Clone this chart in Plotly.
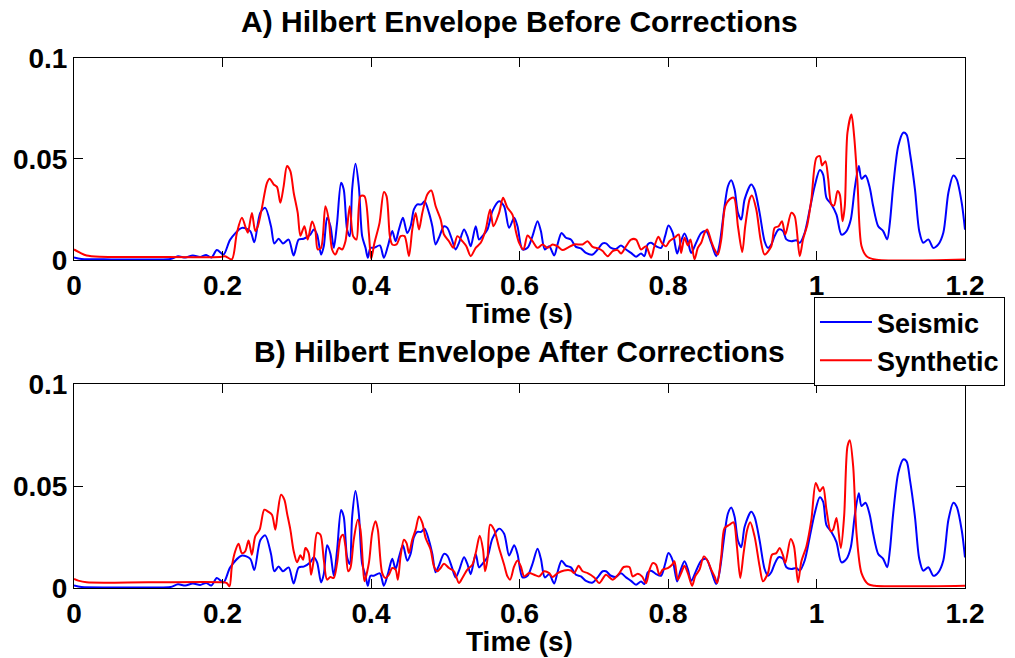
import plotly.graph_objects as go

# ---------------- data ----------------
seis_t = [0.000, 0.010, 0.050, 0.100, 0.130, 0.140, 0.150, 0.160, 0.170, 0.178, 0.185, 0.1924, 0.2014,
          0.2104, 0.2262, 0.2374, 0.2428, 0.2509, 0.2576, 0.2653, 0.2698, 0.2756, 0.2815, 0.2891, 0.2958,
          0.3026, 0.3093, 0.3184, 0.3229, 0.3274, 0.3328, 0.3364, 0.3409, 0.3454, 0.3499, 0.3543, 0.3597,
          0.3633, 0.3678, 0.3714, 0.3746, 0.3791, 0.3836, 0.3881, 0.3926, 0.3957, 0.3993, 0.4038, 0.4119,
          0.4173, 0.4227, 0.4286, 0.4331, 0.4376, 0.4430, 0.4488, 0.4533, 0.4578, 0.4623, 0.4677, 0.4722,
          0.4781, 0.4826, 0.4870, 0.4915, 0.4983, 0.5028, 0.5082, 0.5140, 0.5185, 0.5253, 0.5298, 0.5343,
          0.5410, 0.5455, 0.5500, 0.5568, 0.5635, 0.5725, 0.5793, 0.5860, 0.5928, 0.5973, 0.6040, 0.6108,
          0.6175, 0.6243, 0.6288, 0.6341, 0.6400, 0.6467, 0.6512, 0.6566, 0.6625, 0.6692, 0.6760, 0.6827,
          0.6895, 0.6985, 0.7052, 0.7120, 0.7165, 0.7232, 0.7300, 0.7367, 0.7435, 0.7502, 0.7570, 0.7637,
          0.7682, 0.7727, 0.7772, 0.7840, 0.7907, 0.7961, 0.8006, 0.8064, 0.8123, 0.8168, 0.8222, 0.8267,
          0.8312, 0.8379, 0.8447, 0.8514, 0.8582, 0.8649, 0.8694, 0.8762, 0.8807, 0.8852, 0.8897, 0.8942,
          0.8987, 0.9032, 0.9121, 0.9166, 0.9234, 0.9301, 0.9346, 0.9391, 0.9436, 0.9490, 0.9549, 0.9594,
          0.9661, 0.9729, 0.9774, 0.9841, 0.9909, 0.9976, 1.0044, 1.0089, 1.0134, 1.0201, 1.0269, 1.0336,
          1.0404, 1.0462, 1.0516, 1.0570, 1.0606, 1.0660, 1.0718, 1.0763, 1.0831, 1.0898, 1.0952, 1.0988,
          1.1033, 1.1101, 1.1168, 1.1213, 1.1258, 1.1326, 1.1384, 1.1438, 1.1506, 1.1573, 1.1641, 1.1708,
          1.1776, 1.1843, 1.1888, 1.1956, 1.2000]
seis_v = [0.0012, 0.0005, 0.0003, 0.0003, 0.0005, 0.0018, 0.0012, 0.0022, 0.0015, 0.0025, 0.0012, 0.0049, 0.0027,
          0.0101, 0.0159, 0.0143, 0.0088, 0.0234, 0.0258, 0.0167, 0.0082, 0.0105, 0.0082, 0.0101, 0.0022,
          0.0101, 0.0105, 0.0126, 0.0151, 0.0126, 0.0027, 0.0068, 0.0209, 0.0167, 0.0060, 0.0184, 0.0382,
          0.0349, 0.0151, 0.0118, 0.0349, 0.0476, 0.0365, 0.0118, 0.0060, 0.0011, 0.0060, 0.0060, 0.0072,
          0.0011, 0.0068, 0.0143, 0.0093, 0.0151, 0.0209, 0.0134, 0.0167, 0.0250, 0.0275, 0.0275, 0.0291,
          0.0233, 0.0167, 0.0077, 0.0110, 0.0167, 0.0159, 0.0110, 0.0052, 0.0085, 0.0151, 0.0118, 0.0068,
          0.0167, 0.0101, 0.0118, 0.0151, 0.0242, 0.0291, 0.0266, 0.0159, 0.0209, 0.0167, 0.0052, 0.0060,
          0.0118, 0.0192, 0.0143, 0.0052, 0.0068, 0.0022, 0.0077, 0.0134, 0.0110, 0.0101, 0.0065, 0.0057,
          0.0035, 0.0027, 0.0052, 0.0082, 0.0082, 0.0060, 0.0055, 0.0072, 0.0052, 0.0035, 0.0016, 0.0032,
          0.0019, 0.0077, 0.0085, 0.0068, 0.0060, 0.0118, 0.0171, 0.0134, 0.0032, 0.0085, 0.0131, 0.0093,
          0.0035, 0.0085, 0.0134, 0.0143, 0.0085, 0.0019, 0.0077, 0.0266, 0.0365, 0.0395, 0.0349, 0.0233,
          0.0200, 0.0300, 0.0374, 0.0349, 0.0233, 0.0093, 0.0060, 0.0077, 0.0118, 0.0151, 0.0143, 0.0102,
          0.0093, 0.0098, 0.0085, 0.0135, 0.0250, 0.0366, 0.0445, 0.0423, 0.0308, 0.0275, 0.0225, 0.0126,
          0.0143, 0.0200, 0.0357, 0.0465, 0.0402, 0.0418, 0.0357, 0.0267, 0.0167, 0.0143, 0.0102, 0.0184,
          0.0366, 0.0564, 0.0630, 0.0621, 0.0531, 0.0349, 0.0143, 0.0085, 0.0102, 0.0060, 0.0077, 0.0135,
          0.0333, 0.0418, 0.0399, 0.0283, 0.0150]

synA_t = [0.000, 0.008, 0.017, 0.035, 0.100, 0.197, 0.2036, 0.2126, 0.2194, 0.2261, 0.2320, 0.2342, 0.2396,
          0.2441, 0.2477, 0.2531, 0.2599, 0.2635, 0.2689, 0.2734, 0.2779, 0.2824, 0.2869, 0.2914, 0.2959,
          0.3013, 0.3049, 0.3103, 0.3148, 0.3206, 0.3251, 0.3282, 0.3327, 0.3386, 0.3431, 0.3476, 0.3521,
          0.3566, 0.3611, 0.3656, 0.3714, 0.3759, 0.3804, 0.3858, 0.3912, 0.3971, 0.4002, 0.4047, 0.4115,
          0.4173, 0.4209, 0.4254, 0.4286, 0.4344, 0.4398, 0.4452, 0.4511, 0.4556, 0.4601, 0.4646, 0.4691,
          0.4758, 0.4812, 0.4871, 0.4938, 0.4983, 0.5050, 0.5109, 0.5163, 0.5230, 0.5284, 0.5343, 0.5410,
          0.5478, 0.5545, 0.5604, 0.5649, 0.5725, 0.5779, 0.5838, 0.5905, 0.5950, 0.5995, 0.6054, 0.6108,
          0.6175, 0.6243, 0.6310, 0.6378, 0.6445, 0.6512, 0.6580, 0.6647, 0.6737, 0.6850, 0.6917, 0.6985,
          0.7075, 0.7120, 0.7187, 0.7255, 0.7322, 0.7367, 0.7435, 0.7502, 0.7570, 0.7637, 0.7705, 0.7772,
          0.7817, 0.7871, 0.7916, 0.7974, 0.8019, 0.8087, 0.8145, 0.8177, 0.8222, 0.8267, 0.8303, 0.8357,
          0.8402, 0.8447, 0.8492, 0.8528, 0.8582, 0.8627, 0.8672, 0.8717, 0.8771, 0.8829, 0.8888, 0.8942,
          0.9000, 0.9040, 0.9099, 0.9130, 0.9189, 0.9247, 0.9301, 0.9391, 0.9436, 0.9490, 0.9535, 0.9580,
          0.9661, 0.9706, 0.9774, 0.9819, 0.9877, 0.9931, 0.9999, 1.0044, 1.0075, 1.0120, 1.0156, 1.0201,
          1.0237, 1.0282, 1.0314, 1.0350, 1.0381, 1.0417, 1.0471, 1.0507, 1.0552, 1.0606, 1.0674, 1.0786,
          1.2000]
synA_v = [0.0052, 0.0036, 0.0022, 0.0016, 0.0015, 0.0015, 0.0019, 0.0003, 0.0135, 0.0209, 0.0151, 0.0135, 0.0233,
          0.0143, 0.0168, 0.0258, 0.0382, 0.0402, 0.0374, 0.0362, 0.0283, 0.0366, 0.0465, 0.0440, 0.0333,
          0.0233, 0.0120, 0.0167, 0.0101, 0.0190, 0.0145, 0.0052, 0.0060, 0.0266, 0.0200, 0.0052, 0.0027,
          0.0060, 0.0052, 0.0093, 0.0266, 0.0118, 0.0101, 0.0316, 0.0316, 0.0134, 0.0006, 0.0085, 0.0184,
          0.0336, 0.0316, 0.0118, 0.0077, 0.0077, 0.0118, 0.0118, 0.0019, 0.0151, 0.0233, 0.0151, 0.0233,
          0.0324, 0.0344, 0.0266, 0.0200, 0.0126, 0.0093, 0.0060, 0.0118, 0.0093, 0.0068, 0.0019, 0.0060,
          0.0085, 0.0151, 0.0250, 0.0167, 0.0233, 0.0308, 0.0258, 0.0225, 0.0143, 0.0085, 0.0052, 0.0121,
          0.0093, 0.0060, 0.0077, 0.0060, 0.0077, 0.0068, 0.0049, 0.0060, 0.0077, 0.0077, 0.0093, 0.0065,
          0.0055, 0.0044, 0.0019, 0.0044, 0.0049, 0.0032, 0.0068, 0.0101, 0.0101, 0.0052, 0.0068, 0.0011,
          0.0068, 0.0115, 0.0085, 0.0068, 0.0093, 0.0110, 0.0126, 0.0035, 0.0110, 0.0072, 0.0101, 0.0003,
          0.0060, 0.0085, 0.0134, 0.0151, 0.0093, 0.0052, 0.0027, 0.0101, 0.0266, 0.0300, 0.0308, 0.0167,
          0.0039, 0.0167, 0.0300, 0.0319, 0.0250, 0.0101, 0.0027, 0.0068, 0.0159, 0.0167, 0.0192, 0.0126,
          0.0234, 0.0217, 0.0019, 0.0102, 0.0176, 0.0300, 0.0506, 0.0514, 0.0468, 0.0489, 0.0407, 0.0275,
          0.0270, 0.0341, 0.0324, 0.0192, 0.0267, 0.0630, 0.0720, 0.0613, 0.0382, 0.0069, 0.0019, 0.0003,
          0.0003]

synB_t = [0.000, 0.0057, 0.017, 0.100, 0.2014, 0.2059, 0.2095, 0.2126, 0.2171, 0.2216, 0.2261, 0.2306, 0.2351,
          0.2396, 0.2441, 0.2500, 0.2563, 0.2608, 0.2666, 0.2711, 0.2743, 0.2788, 0.2833, 0.2869, 0.2914,
          0.2959, 0.3004, 0.3049, 0.3085, 0.3116, 0.3161, 0.3193, 0.3229, 0.3274, 0.3319, 0.3364, 0.3408,
          0.3453, 0.3498, 0.3543, 0.3588, 0.3624, 0.3656, 0.3692, 0.3723, 0.3768, 0.3822, 0.3858, 0.3890,
          0.3912, 0.3971, 0.4016, 0.4061, 0.4092, 0.4151, 0.4196, 0.4241, 0.4286, 0.4331, 0.4362, 0.4398,
          0.4443, 0.4479, 0.4511, 0.4556, 0.4601, 0.4646, 0.4691, 0.4736, 0.4803, 0.4848, 0.4893, 0.4938,
          0.4983, 0.5050, 0.5118, 0.5185, 0.5230, 0.5298, 0.5365, 0.5410, 0.5464, 0.5509, 0.5536, 0.5568,
          0.5604, 0.5658, 0.5725, 0.5793, 0.5838, 0.5874, 0.5928, 0.5973, 0.6018, 0.6063, 0.6130, 0.6198,
          0.6265, 0.6333, 0.6400, 0.6445, 0.6512, 0.6602, 0.6692, 0.6737, 0.6796, 0.6850, 0.6917, 0.7007,
          0.7075, 0.7165, 0.7255, 0.7345, 0.7403, 0.7480, 0.7524, 0.7592, 0.7650, 0.7704, 0.7749, 0.7794,
          0.7839, 0.7884, 0.7929, 0.7997, 0.8055, 0.8087, 0.8132, 0.8177, 0.8222, 0.8267, 0.8325, 0.8366,
          0.8424, 0.8483, 0.8537, 0.8582, 0.8627, 0.8663, 0.8717, 0.8762, 0.8829, 0.8883, 0.8928, 0.8973,
          0.9018, 0.9067, 0.9108, 0.9166, 0.9234, 0.9279, 0.9346, 0.9400, 0.9459, 0.9504, 0.9549, 0.9580,
          0.9652, 0.9697, 0.9751, 0.9796, 0.9864, 0.9931, 0.9990, 1.0044, 1.0089, 1.0134, 1.0192, 1.0224,
          1.0269, 1.0327, 1.0372, 1.0417, 1.0449, 1.0494, 1.0539, 1.0606, 1.0696, 1.0786, 1.2000]
synB_v = [0.0044, 0.0036, 0.0028, 0.0028, 0.0028, 0.0024, 0.0008, 0.0106, 0.0180, 0.0217, 0.0171, 0.0180, 0.0233,
          0.0163, 0.0253, 0.0286, 0.0384, 0.0376, 0.0359, 0.0286, 0.0367, 0.0457, 0.0433, 0.0367, 0.0286,
          0.0180, 0.0126, 0.0160, 0.0139, 0.0196, 0.0171, 0.0065, 0.0139, 0.0270, 0.0261, 0.0139, 0.0041,
          0.0054, 0.0049, 0.0122, 0.0245, 0.0261, 0.0204, 0.0082, 0.0098, 0.0237, 0.0335, 0.0286, 0.0122,
          0.0033, 0.0122, 0.0270, 0.0327, 0.0286, 0.0073, 0.0049, 0.0065, 0.0098, 0.0090, 0.0041, 0.0155,
          0.0237, 0.0220, 0.0171, 0.0237, 0.0286, 0.0351, 0.0319, 0.0245, 0.0188, 0.0106, 0.0082, 0.0098,
          0.0119, 0.0098, 0.0082, 0.0024, 0.0049, 0.0090, 0.0114, 0.0171, 0.0256, 0.0188, 0.0082, 0.0139,
          0.0310, 0.0286, 0.0196, 0.0114, 0.0057, 0.0041, 0.0106, 0.0135, 0.0106, 0.0057, 0.0073, 0.0065,
          0.0057, 0.0082, 0.0073, 0.0054, 0.0073, 0.0086, 0.0086, 0.0073, 0.0109, 0.0082, 0.0073, 0.0052,
          0.0024, 0.0065, 0.0041, 0.0073, 0.0103, 0.0103, 0.0057, 0.0070, 0.0057, 0.0024, 0.0086, 0.0122,
          0.0114, 0.0065, 0.0090, 0.0098, 0.0114, 0.0131, 0.0041, 0.0073, 0.0109, 0.0073, 0.0011, 0.0057,
          0.0090, 0.0155, 0.0131, 0.0090, 0.0057, 0.0024, 0.0155, 0.0294, 0.0310, 0.0322, 0.0204, 0.0049,
          0.0171, 0.0286, 0.0322, 0.0253, 0.0106, 0.0033, 0.0073, 0.0163, 0.0171, 0.0196, 0.0160, 0.0122,
          0.0240, 0.0204, 0.0028, 0.0130, 0.0204, 0.0335, 0.0515, 0.0474, 0.0495, 0.0384, 0.0278, 0.0286,
          0.0343, 0.0196, 0.0351, 0.0694, 0.0724, 0.0596, 0.0269, 0.0073, 0.0019, 0.0011, 0.0011]

x_tickvals = [0, 0.2, 0.4, 0.6, 0.8, 1.0, 1.2]
x_ticktext = ["0", "0.2", "0.4", "0.6", "0.8", "1", "1.2"]
y_tickvals = [0, 0.05, 0.1]
y_ticktext = ["0", "0.05", "0.1"]

title_a = "A) Hilbert Envelope Before Corrections"
title_b = "B) Hilbert Envelope After Corrections"
x_label = "Time (s)"
series_names = ["Seismic", "Synthetic"]

# ---------------- figure ----------------
BLUE = "rgb(0,0,255)"
RED = "rgb(255,0,0)"
FONT = "Liberation Sans, Arial, sans-serif"

fig = go.Figure()
fig.add_trace(go.Scatter(x=seis_t, y=seis_v, mode="lines", name=series_names[0],
                         line=dict(color=BLUE, width=2, shape="spline", smoothing=0.8),
                         xaxis="x", yaxis="y"))
fig.add_trace(go.Scatter(x=synA_t, y=synA_v, mode="lines", name=series_names[1],
                         line=dict(color=RED, width=2, shape="spline", smoothing=0.8),
                         xaxis="x", yaxis="y"))
fig.add_trace(go.Scatter(x=seis_t, y=seis_v, mode="lines", name=series_names[0], showlegend=False,
                         line=dict(color=BLUE, width=2, shape="spline", smoothing=0.8),
                         xaxis="x2", yaxis="y2"))
fig.add_trace(go.Scatter(x=synB_t, y=synB_v, mode="lines", name=series_names[1], showlegend=False,
                         line=dict(color=RED, width=2, shape="spline", smoothing=0.8),
                         xaxis="x2", yaxis="y2"))

tickfont = dict(family=FONT, size=28, color="black", weight="bold")
common_x = dict(range=[0, 1.2], tickvals=x_tickvals, ticktext=x_ticktext, ticks="inside", ticklen=9,
                tickcolor="black", showline=True, linecolor="black", linewidth=1, mirror="ticks",
                showgrid=False, zeroline=False, tickfont=tickfont, automargin=False)
common_y = dict(range=[0, 0.1], tickvals=y_tickvals, ticktext=y_ticktext, ticks="inside", ticklen=9,
                tickcolor="black", showline=True, linecolor="black", linewidth=1, mirror="ticks",
                showgrid=False, zeroline=False, tickfont=tickfont, automargin=False)

fig.update_layout(
    width=1015, height=658,
    margin=dict(l=74, r=50, t=58, b=70, autoexpand=False),
    paper_bgcolor="white", plot_bgcolor="white",
    xaxis=dict(domain=[0, 1], anchor="y", **common_x),
    yaxis=dict(domain=[0.6189, 1.0], anchor="x", **common_y),
    xaxis2=dict(domain=[0, 1], anchor="y2", **common_x),
    yaxis2=dict(domain=[0.0, 0.3849], anchor="x2", **common_y),
    showlegend=True,
    legend=dict(x=0.8305, y=0.549, xanchor="left", yanchor="top",
                bgcolor="white", bordercolor="black", borderwidth=1,
                font=dict(family=FONT, size=27, color="black", weight="bold"),
                tracegroupgap=0, itemwidth=52),
)

title_font = dict(family=FONT, size=30, color="black", weight="bold")
label_font = dict(family=FONT, size=28, color="black", weight="bold")
fig.add_annotation(text=title_a, xref="paper", yref="paper", x=0.5, y=1.068,
                   showarrow=False, font=title_font, xanchor="center", yanchor="middle")
fig.add_annotation(text=title_b, xref="paper", yref="paper", x=0.5, y=0.4453,
                   showarrow=False, font=title_font, xanchor="center", yanchor="middle")
fig.add_annotation(text=x_label, xref="paper", yref="paper", x=0.5, y=0.517,
                   showarrow=False, font=label_font, xanchor="center", yanchor="middle")
fig.add_annotation(text=x_label, xref="paper", yref="paper", x=0.5, y=-0.101,
                   showarrow=False, font=label_font, xanchor="center", yanchor="middle")

fig.write_html("out.html")
